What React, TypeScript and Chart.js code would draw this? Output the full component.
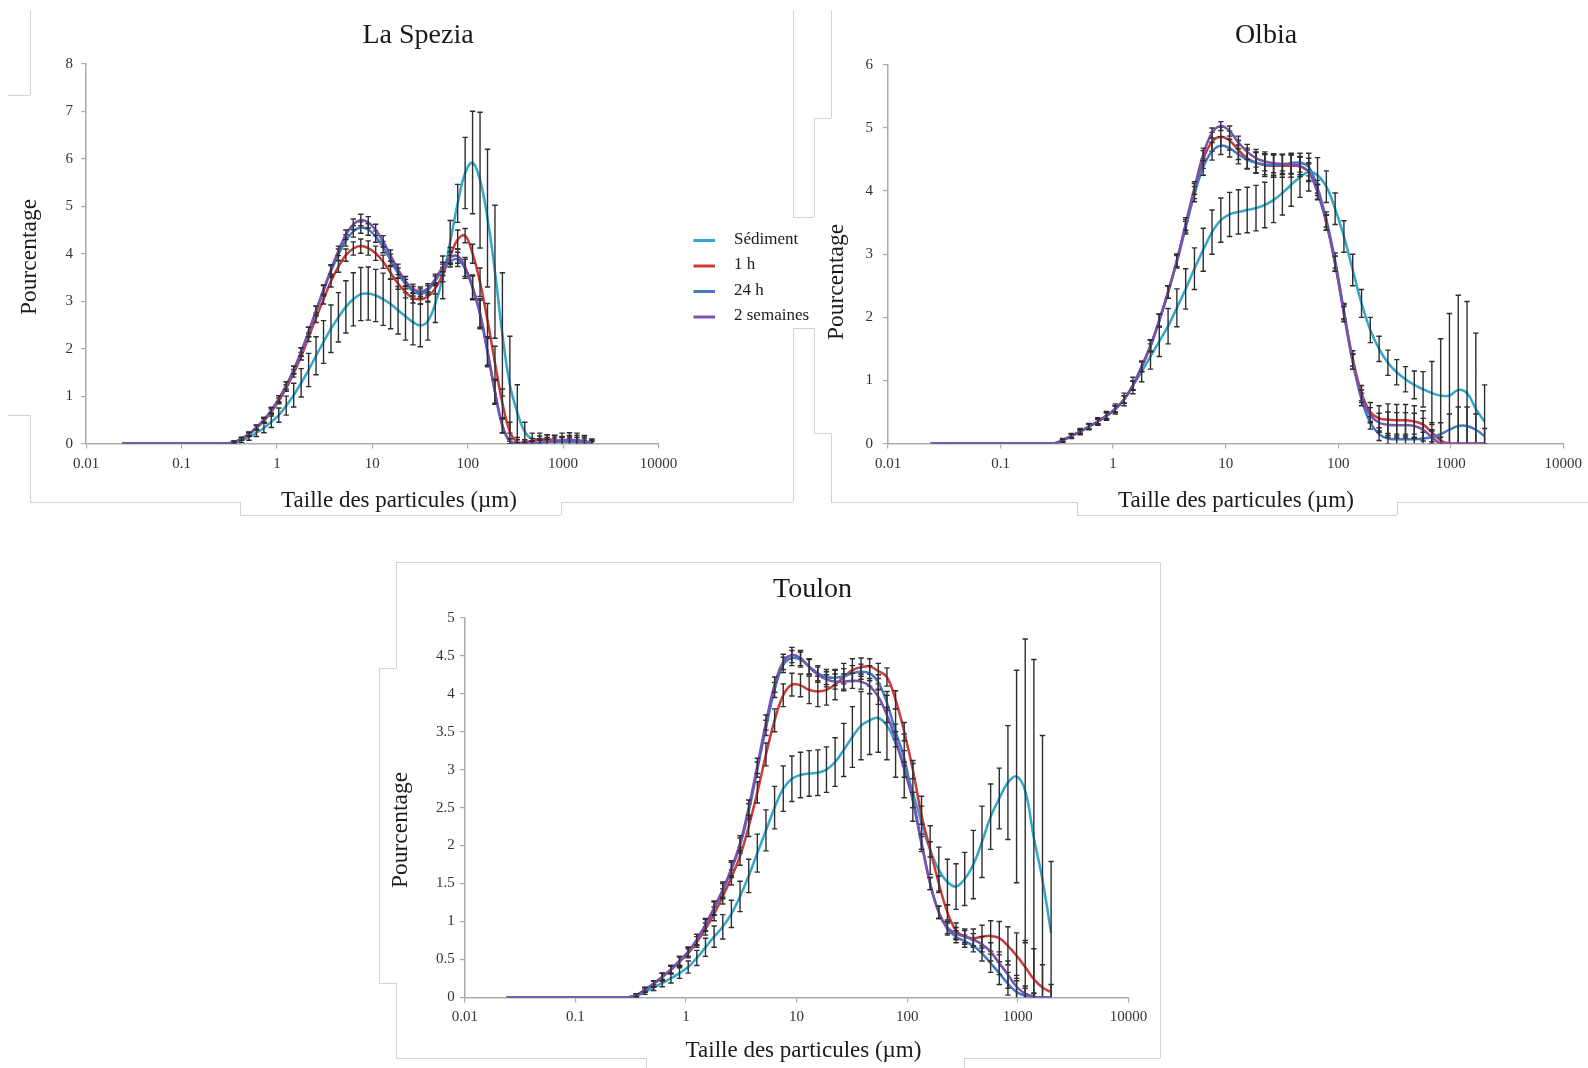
import React, { useEffect, useRef } from 'react';
import { Chart, registerables } from 'chart.js';

Chart.register(...registerables);

// Particle size classes (µm)
const SIZES = [0.0239, 0.0287, 0.0343, 0.0411, 0.0492, 0.0589, 0.0705, 0.0844, 0.101, 0.121, 0.145, 0.173, 0.207, 0.248, 0.297,
  0.356, 0.426, 0.510, 0.610, 0.731, 0.874, 1.047, 1.253, 1.500, 1.796, 2.150, 2.573, 3.081, 3.688, 4.415, 5.285, 6.326, 7.573,
  9.066, 10.85, 12.99, 15.55, 18.62, 22.29, 26.68, 31.94, 38.24, 45.77, 54.79, 65.59, 78.52, 94.00, 112.5, 134.7, 161.3,
  193.1, 231.1, 276.7, 331.2, 396.5, 474.6, 568.2, 680.2, 814.2, 974.7, 1167, 1397, 1672, 2000];

const X_TICKS = [0.01, 0.1, 1, 10, 100, 1000, 10000];
const SERIES_NAMES = ['Sédiment', '1 h', '24 h', '2 semaines'];
const SERIES_COLORS = ['#2FA8CA', '#CC3B3A', '#3F79C7', '#7A52AD'];

// ---------------- La Spezia ----------------
const LS_SED = [0, 0, 0, 0, 0, 0, 0, 0, 0, 0, 0, 0, 0, 0, 0,
  0.02, 0.07, 0.14, 0.23, 0.33, 0.46, 0.60, 0.80, 1.02,
  1.28, 1.55, 1.85, 2.14, 2.42, 2.66, 2.88, 3.04, 3.15,
  3.16, 3.12, 3.04, 2.94, 2.81, 2.68, 2.56, 2.49, 2.58,
  2.95, 3.5, 4.25, 5.06, 5.7, 5.92, 5.55, 4.75, 3.62,
  2.3, 1.24, 0.66, 0.25, 0.1, 0.1, 0.09, 0.07, 0.05,
  0.05, 0.05, 0.04, 0.03];
const LS_SED_ERR = [0, 0, 0, 0, 0, 0, 0, 0, 0, 0, 0, 0, 0, 0, 0,
  0.03, 0.05, 0.07, 0.08, 0.10, 0.12, 0.15, 0.2, 0.25,
  0.3, 0.35, 0.4, 0.45, 0.5, 0.52, 0.55, 0.56, 0.56,
  0.56, 0.55, 0.55, 0.52, 0.5, 0.5, 0.48, 0.45, 0.4,
  0.4, 0.45, 0.45, 0.4, 0.75, 1.08, 1.43, 1.45, 1.4,
  1.3, 1.02, 0.58, 0.2, 0.12, 0.12, 0.1, 0.1, 0.1,
  0.12, 0.12, 0.1, 0.05];
const LS_1H = [0, 0, 0, 0, 0, 0, 0, 0, 0, 0, 0, 0, 0, 0, 0,
  0.03, 0.1, 0.2, 0.33, 0.48, 0.67, 0.9, 1.17, 1.48,
  1.84, 2.24, 2.65, 3.04, 3.42, 3.73, 3.97, 4.11, 4.16,
  4.12, 4.01, 3.83, 3.6, 3.37, 3.19, 3.07, 3.04, 3.1,
  3.27, 3.56, 3.95, 4.3, 4.38, 4.0, 3.4, 2.6, 1.7,
  0.85, 0.25, 0.03, 0.03, 0.06, 0.08, 0.08, 0.07, 0.05,
  0.04, 0.03, 0.02, 0.01];
const LS_1H_ERR = [0, 0, 0, 0, 0, 0, 0, 0, 0, 0, 0, 0, 0, 0, 0,
  0.02, 0.03, 0.04, 0.05, 0.05, 0.06, 0.06, 0.07, 0.08,
  0.08, 0.09, 0.1, 0.1, 0.12, 0.12, 0.13, 0.14, 0.15,
  0.15, 0.15, 0.14, 0.13, 0.12, 0.12, 0.11, 0.1, 0.1,
  0.12, 0.15, 0.18, 0.2, 0.15, 0.2, 0.3, 0.35, 0.35,
  0.3, 0.2, 0.1, 0.05, 0.05, 0.08, 0.1, 0.1, 0.08,
  0.06, 0.05, 0.04, 0.03];
const LS_24H = [0, 0, 0, 0, 0, 0, 0, 0, 0, 0, 0, 0, 0, 0, 0,
  0.03, 0.1, 0.2, 0.34, 0.5, 0.7, 0.94, 1.22, 1.55,
  1.93, 2.35, 2.79, 3.22, 3.63, 3.98, 4.28, 4.47, 4.55,
  4.51, 4.36, 4.14, 3.87, 3.59, 3.36, 3.21, 3.16, 3.23,
  3.43, 3.66, 3.84, 3.88, 3.68, 3.28, 2.72, 1.92, 1.08,
  0.37, 0.05, 0.0, 0.0, 0.01, 0.02, 0.03, 0.04, 0.04,
  0.04, 0.03, 0.02, 0.01];
const LS_24H_ERR = [0, 0, 0, 0, 0, 0, 0, 0, 0, 0, 0, 0, 0, 0, 0,
  0.02, 0.03, 0.04, 0.05, 0.05, 0.06, 0.07, 0.08, 0.08,
  0.09, 0.1, 0.1, 0.11, 0.12, 0.12, 0.12, 0.12, 0.12,
  0.12, 0.12, 0.12, 0.12, 0.11, 0.1, 0.1, 0.1, 0.1,
  0.1, 0.12, 0.12, 0.15, 0.2, 0.25, 0.3, 0.3, 0.25,
  0.15, 0.05, 0.02, 0.02, 0.03, 0.05, 0.06, 0.08, 0.1,
  0.1, 0.1, 0.08, 0.05];
const LS_2S = [0, 0, 0, 0, 0, 0, 0, 0, 0, 0, 0, 0, 0, 0, 0,
  0.03, 0.1, 0.2, 0.34, 0.5, 0.7, 0.94, 1.22, 1.55,
  1.93, 2.35, 2.8, 3.24, 3.67, 4.06, 4.4, 4.62, 4.71,
  4.66, 4.5, 4.26, 3.96, 3.67, 3.42, 3.26, 3.2, 3.27,
  3.47, 3.72, 3.92, 3.95, 3.72, 3.3, 2.75, 1.95, 1.1,
  0.38, 0.05, 0.0, 0.0, 0.01, 0.02, 0.03, 0.05, 0.07,
  0.08, 0.07, 0.05, 0.02];
const LS_2S_ERR = [0, 0, 0, 0, 0, 0, 0, 0, 0, 0, 0, 0, 0, 0, 0,
  0.02, 0.03, 0.04, 0.05, 0.05, 0.06, 0.07, 0.08, 0.08,
  0.09, 0.1, 0.1, 0.1, 0.1, 0.1, 0.1, 0.11, 0.12,
  0.12, 0.12, 0.12, 0.12, 0.11, 0.1, 0.1, 0.1, 0.1,
  0.1, 0.1, 0.12, 0.15, 0.2, 0.25, 0.3, 0.3, 0.25,
  0.15, 0.05, 0.02, 0.02, 0.05, 0.08, 0.1, 0.12, 0.15,
  0.15, 0.15, 0.12, 0.08];

// ---------------- Olbia ----------------
const OL_SED = [0, 0, 0, 0, 0, 0, 0, 0, 0, 0, 0, 0, 0, 0, 0,
  0.05, 0.12, 0.19, 0.27, 0.35, 0.44, 0.55, 0.7, 0.92,
  1.14, 1.38, 1.62, 1.86, 2.15, 2.45, 2.77, 3.07, 3.35,
  3.54, 3.63, 3.67, 3.7, 3.73, 3.78, 3.86, 3.97, 4.1,
  4.22, 4.3, 4.25, 4.07, 3.72, 3.28, 2.75, 2.22, 1.8,
  1.5, 1.28, 1.13, 1.02, 0.93, 0.86, 0.8, 0.76, 0.76,
  0.85, 0.8, 0.55, 0.35];
const OL_SED_ERR = [0, 0, 0, 0, 0, 0, 0, 0, 0, 0, 0, 0, 0, 0, 0,
  0.03, 0.04, 0.05, 0.05, 0.06, 0.07, 0.08, 0.1, 0.13,
  0.16, 0.2, 0.24, 0.28, 0.3, 0.32, 0.33, 0.34, 0.35,
  0.35, 0.35, 0.35, 0.36, 0.36, 0.36, 0.36, 0.35, 0.34,
  0.32, 0.3, 0.28, 0.25, 0.25, 0.25, 0.25, 0.22, 0.2,
  0.2, 0.2, 0.2, 0.2, 0.22, 0.28, 0.5, 0.9, 1.3,
  1.5, 1.45, 1.2, 0.58];
const OL_1H = [0, 0, 0, 0, 0, 0, 0, 0, 0, 0, 0, 0, 0, 0, 0,
  0.05, 0.12, 0.19, 0.27, 0.35, 0.44, 0.55, 0.7, 0.92,
  1.22, 1.55, 1.95, 2.4, 2.9, 3.45, 4.0, 4.5, 4.78,
  4.86, 4.8, 4.65, 4.52, 4.45, 4.41, 4.4, 4.4, 4.4,
  4.39, 4.3, 3.99, 3.5, 2.85, 2.08, 1.35, 0.8, 0.5,
  0.4, 0.38, 0.37, 0.37, 0.35, 0.3, 0.18, 0.05, 0.0,
  0.0, 0.0, 0.0, 0.0];
const OL_1H_ERR = [0, 0, 0, 0, 0, 0, 0, 0, 0, 0, 0, 0, 0, 0, 0,
  0.02, 0.03, 0.03, 0.04, 0.04, 0.05, 0.05, 0.06, 0.07,
  0.08, 0.09, 0.1, 0.1, 0.1, 0.1, 0.12, 0.14, 0.15,
  0.15, 0.15, 0.15, 0.16, 0.17, 0.18, 0.18, 0.18, 0.18,
  0.16, 0.15, 0.12, 0.12, 0.12, 0.12, 0.12, 0.12, 0.15,
  0.2, 0.25, 0.25, 0.25, 0.25, 0.22, 0.15, 0.05, 0,
  0, 0, 0, 0];
const OL_24H = [0, 0, 0, 0, 0, 0, 0, 0, 0, 0, 0, 0, 0, 0, 0,
  0.05, 0.12, 0.19, 0.27, 0.35, 0.44, 0.55, 0.7, 0.92,
  1.22, 1.55, 1.95, 2.4, 2.88, 3.42, 3.95, 4.38, 4.63,
  4.72, 4.68, 4.58, 4.5, 4.45, 4.42, 4.41, 4.42, 4.44,
  4.45, 4.38, 4.05, 3.55, 2.9, 2.1, 1.3, 0.7, 0.33,
  0.15, 0.08, 0.07, 0.07, 0.07, 0.08, 0.1, 0.15, 0.22,
  0.28, 0.28, 0.22, 0.12];
const OL_24H_ERR = [0, 0, 0, 0, 0, 0, 0, 0, 0, 0, 0, 0, 0, 0, 0,
  0.02, 0.03, 0.03, 0.04, 0.04, 0.05, 0.05, 0.06, 0.07,
  0.08, 0.09, 0.1, 0.1, 0.1, 0.1, 0.12, 0.13, 0.14,
  0.14, 0.14, 0.15, 0.15, 0.16, 0.16, 0.16, 0.16, 0.16,
  0.15, 0.14, 0.12, 0.12, 0.12, 0.12, 0.12, 0.1, 0.1,
  0.1, 0.08, 0.08, 0.08, 0.08, 0.1, 0.12, 0.18, 0.25,
  0.3, 0.3, 0.25, 0.12];
const OL_2S = [0, 0, 0, 0, 0, 0, 0, 0, 0, 0, 0, 0, 0, 0, 0,
  0.05, 0.12, 0.19, 0.27, 0.35, 0.44, 0.55, 0.7, 0.92,
  1.22, 1.55, 1.95, 2.4, 2.9, 3.48, 4.05, 4.58, 4.92,
  5.03, 4.95, 4.77, 4.62, 4.52, 4.47, 4.44, 4.43, 4.42,
  4.4, 4.3, 3.98, 3.5, 2.85, 2.05, 1.3, 0.75, 0.45,
  0.33, 0.3, 0.29, 0.29, 0.28, 0.22, 0.1, 0.0, 0.0,
  0.0, 0.0, 0.0, 0.0];
const OL_2S_ERR = [0, 0, 0, 0, 0, 0, 0, 0, 0, 0, 0, 0, 0, 0, 0,
  0.02, 0.03, 0.03, 0.04, 0.04, 0.05, 0.05, 0.06, 0.07,
  0.08, 0.09, 0.1, 0.1, 0.1, 0.1, 0.1, 0.1, 0.08,
  0.07, 0.08, 0.1, 0.12, 0.14, 0.15, 0.15, 0.15, 0.15,
  0.14, 0.13, 0.12, 0.12, 0.12, 0.12, 0.12, 0.1, 0.12,
  0.15, 0.2, 0.2, 0.2, 0.2, 0.18, 0.1, 0, 0,
  0, 0, 0, 0];

// ---------------- Toulon ----------------
const TL_SED = [0, 0, 0, 0, 0, 0, 0, 0, 0, 0, 0, 0, 0, 0, 0,
  0.02, 0.07, 0.13, 0.19, 0.25, 0.32, 0.4, 0.52, 0.66,
  0.8, 0.93, 1.1, 1.33, 1.6, 1.9, 2.2, 2.5, 2.75,
  2.88, 2.93, 2.95, 2.96, 3.0, 3.1, 3.26, 3.43, 3.58,
  3.65, 3.68, 3.58, 3.35, 3.05, 2.7, 2.3, 1.94, 1.68,
  1.52, 1.46, 1.56, 1.75, 2.05, 2.38, 2.62, 2.83, 2.91,
  2.72, 2.1, 1.55, 0.85];
const TL_SED_ERR = [0, 0, 0, 0, 0, 0, 0, 0, 0, 0, 0, 0, 0, 0, 0,
  0.02, 0.03, 0.04, 0.05, 0.06, 0.07, 0.08, 0.1, 0.12,
  0.14, 0.16, 0.18, 0.2, 0.22, 0.25, 0.27, 0.28, 0.3,
  0.3, 0.3, 0.3, 0.3, 0.3, 0.32, 0.35, 0.4, 0.45,
  0.45, 0.45, 0.45, 0.45, 0.42, 0.38, 0.35, 0.32, 0.3,
  0.3, 0.3, 0.35, 0.45, 0.47, 0.43, 0.4, 0.75, 1.4,
  2.0, 2.35, 1.9, 0.94];
const TL_1H = [0, 0, 0, 0, 0, 0, 0, 0, 0, 0, 0, 0, 0, 0, 0,
  0.03, 0.1, 0.18, 0.27, 0.36, 0.47, 0.58, 0.73, 0.9,
  1.1, 1.33, 1.58, 1.86, 2.25, 2.7, 3.2, 3.65, 3.98,
  4.12, 4.11, 4.05, 4.03, 4.05, 4.12, 4.22, 4.31, 4.35,
  4.36, 4.3, 4.22, 3.92, 3.5, 3.0, 2.4, 1.95, 1.5,
  1.12, 0.88, 0.8, 0.78, 0.8, 0.81, 0.78, 0.68, 0.55,
  0.4, 0.24, 0.13, 0.07];
const TL_1H_ERR = [0, 0, 0, 0, 0, 0, 0, 0, 0, 0, 0, 0, 0, 0, 0,
  0.02, 0.03, 0.04, 0.05, 0.05, 0.06, 0.06, 0.07, 0.08,
  0.09, 0.1, 0.1, 0.12, 0.13, 0.14, 0.15, 0.15, 0.15,
  0.15, 0.15, 0.18, 0.2, 0.2, 0.2, 0.18, 0.15, 0.12,
  0.1, 0.1, 0.12, 0.12, 0.12, 0.12, 0.12, 0.1, 0.1,
  0.1, 0.1, 0.1, 0.12, 0.15, 0.2, 0.22, 0.25, 0.3,
  0.35, 0.4, 0.3, 0.1];
const TL_24H = [0, 0, 0, 0, 0, 0, 0, 0, 0, 0, 0, 0, 0, 0, 0,
  0.03, 0.1, 0.18, 0.27, 0.37, 0.48, 0.6, 0.76, 0.95,
  1.17, 1.4, 1.68, 2.0, 2.45, 3.0, 3.55, 4.05, 4.38,
  4.47, 4.45, 4.36, 4.27, 4.22, 4.21, 4.23, 4.27, 4.29,
  4.27, 4.15, 3.88, 3.5, 3.15, 2.6, 2.02, 1.5, 1.12,
  0.9, 0.8, 0.74, 0.68, 0.58, 0.45, 0.32, 0.18, 0.07,
  0.02, 0.0, 0.0, 0.0];
const TL_24H_ERR = [0, 0, 0, 0, 0, 0, 0, 0, 0, 0, 0, 0, 0, 0, 0,
  0.02, 0.03, 0.04, 0.05, 0.05, 0.06, 0.06, 0.07, 0.08,
  0.09, 0.1, 0.1, 0.1, 0.1, 0.1, 0.1, 0.1, 0.1,
  0.1, 0.1, 0.1, 0.1, 0.1, 0.1, 0.1, 0.1, 0.1,
  0.1, 0.1, 0.1, 0.1, 0.1, 0.1, 0.1, 0.08, 0.08,
  0.08, 0.08, 0.08, 0.08, 0.1, 0.12, 0.15, 0.15, 0.15,
  0.1, 0.05, 0, 0];
const TL_2S = [0, 0, 0, 0, 0, 0, 0, 0, 0, 0, 0, 0, 0, 0, 0,
  0.03, 0.1, 0.18, 0.27, 0.37, 0.48, 0.6, 0.76, 0.96,
  1.18, 1.42, 1.7, 2.03, 2.5, 3.05, 3.62, 4.12, 4.42,
  4.51, 4.47, 4.35, 4.25, 4.19, 4.16, 4.16, 4.17, 4.16,
  4.1, 3.96, 3.72, 3.4, 3.0, 2.6, 2.05, 1.5, 1.12,
  0.92, 0.84, 0.8, 0.76, 0.7, 0.6, 0.45, 0.3, 0.14,
  0.05, 0.01, 0.0, 0.0];
const TL_2S_ERR = [0, 0, 0, 0, 0, 0, 0, 0, 0, 0, 0, 0, 0, 0, 0,
  0.02, 0.03, 0.04, 0.05, 0.05, 0.06, 0.06, 0.07, 0.08,
  0.09, 0.1, 0.1, 0.1, 0.1, 0.1, 0.1, 0.1, 0.1,
  0.1, 0.1, 0.1, 0.1, 0.1, 0.1, 0.1, 0.1, 0.1,
  0.1, 0.1, 0.1, 0.1, 0.1, 0.1, 0.1, 0.08, 0.08,
  0.08, 0.08, 0.08, 0.08, 0.1, 0.12, 0.15, 0.18, 0.15,
  0.1, 0.05, 0, 0];

// ---------------- styling ----------------
const FONT = '"Liberation Serif", "Times New Roman", serif';
const AXIS_COLOR = '#ababab';
const TICK_COLOR = '#333333';
const TEXT_COLOR = '#1a1a1a';
const FRAME_COLOR = '#d2d2d2';

const errorBarPlugin = {
  id: 'errorBars',
  afterDatasetDraw(chart: any, args: any) {
    const ds: any = chart.data.datasets[args.index];
    const errs: number[] = ds.errors;
    if (!errs) return;
    const yScale = chart.scales.y;
    const area = chart.chartArea;
    const ctx = chart.ctx;
    ctx.save();
    ctx.beginPath();
    ctx.rect(area.left - 4, area.top - 4, area.right - area.left + 8, area.bottom - area.top + 4);
    ctx.clip();
    ctx.strokeStyle = '#2e2e2e';
    ctx.lineWidth = 1.4;
    ctx.beginPath();
    args.meta.data.forEach((pt: any, i: number) => {
      const e = errs[i];
      if (!e) return;
      const v = ds.data[i].y;
      const x = pt.x;
      const top = yScale.getPixelForValue(v + e);
      const bot = Math.min(yScale.getPixelForValue(v - e), area.bottom);
      ctx.moveTo(x, top);
      ctx.lineTo(x, bot);
      ctx.moveTo(x - 2.7, top);
      ctx.lineTo(x + 2.7, top);
      if (v - e >= 0) {
        ctx.moveTo(x - 2.7, bot);
        ctx.lineTo(x + 2.7, bot);
      }
    });
    ctx.stroke();
    ctx.restore();
  },
};

type TextItem = { text: string; x: number; y: number; size: number; rotate?: number };

function makeTextPlugin(items: TextItem[]) {
  return {
    id: 'panelTexts',
    afterDraw(chart: any) {
      const ctx = chart.ctx;
      items.forEach((it) => {
        ctx.save();
        ctx.font = `${it.size}px ${FONT}`;
        ctx.fillStyle = TEXT_COLOR;
        ctx.textAlign = 'center';
        ctx.textBaseline = 'middle';
        ctx.translate(it.x, it.y);
        if (it.rotate) ctx.rotate(it.rotate);
        ctx.fillText(it.text, 0, 0);
        ctx.restore();
      });
    },
  };
}

function makeLegendPlugin(x0: number, x1: number, tx: number, ys: number[]) {
  return {
    id: 'sideLegend',
    afterDraw(chart: any) {
      const ctx = chart.ctx;
      ctx.save();
      ctx.font = `17px ${FONT}`;
      ctx.textAlign = 'left';
      ctx.textBaseline = 'middle';
      chart.data.datasets.forEach((ds: any, i: number) => {
        const y = ys[i];
        ctx.strokeStyle = ds.borderColor;
        ctx.lineWidth = 3;
        ctx.beginPath();
        ctx.moveTo(x0, y);
        ctx.lineTo(x1, y);
        ctx.stroke();
        ctx.fillStyle = TEXT_COLOR;
        ctx.fillText(ds.label, tx, y - 1);
      });
      ctx.restore();
    },
  };
}

type PanelDef = {
  left: number; top: number; width: number; height: number;
  padding: { left: number; right: number; top: number; bottom: number };
  yMax: number; yStep: number; yPad: number; xPad: number;
  series: number[][]; errors: number[][];
  texts: TextItem[];
  legend?: boolean;
};

function buildConfig(p: PanelDef): any {
  const tickFont = { family: FONT, size: 15 };
  const plugins: any[] = [errorBarPlugin, makeTextPlugin(p.texts)];
  if (p.legend) plugins.push(makeLegendPlugin(693.5, 715, 734, [240.5, 266, 291.5, 317]));
  return {
    type: 'line',
    data: {
      datasets: p.series.map((vals, i) => ({
        label: SERIES_NAMES[i],
        data: SIZES.map((x, j) => ({ x, y: vals[j] })),
        errors: p.errors[i],
        borderColor: SERIES_COLORS[i],
        backgroundColor: SERIES_COLORS[i],
        borderWidth: 2.5,
        pointRadius: 0,
        pointHoverRadius: 0,
        tension: 0.4,
        fill: false,
        order: 4 - i,
      })),
    },
    options: {
      responsive: false,
      animation: false,
      events: [],
      layout: { padding: p.padding },
      plugins: {
        legend: { display: false },
        tooltip: { enabled: false },
        title: { display: false },
      },
      scales: {
        x: {
          type: 'logarithmic',
          min: 0.01,
          max: 10000,
          afterBuildTicks: (s: any) => { s.ticks = X_TICKS.map((v) => ({ value: v })); },
          afterFit: (s: any) => { s.height = 40; },
          ticks: {
            callback: (v: any) => String(v),
            font: tickFont,
            color: TICK_COLOR,
            padding: p.xPad,
            autoSkip: false,
            maxRotation: 0,
            minRotation: 0,
          },
          grid: { drawOnChartArea: false, drawTicks: true, tickLength: 5, color: AXIS_COLOR, lineWidth: 1.2 },
          border: { display: true, color: AXIS_COLOR, width: 1.5 },
        },
        y: {
          type: 'linear',
          min: 0,
          max: p.yMax,
          afterFit: (s: any) => { s.width = 40; },
          ticks: {
            stepSize: p.yStep,
            callback: (v: any) => String(v),
            font: tickFont,
            color: TICK_COLOR,
            padding: p.yPad,
          },
          grid: { drawOnChartArea: false, drawTicks: true, tickLength: 5, color: AXIS_COLOR, lineWidth: 1.2 },
          border: { display: true, color: AXIS_COLOR, width: 1.5 },
        },
      },
    },
    plugins,
  };
}

const PANELS: PanelDef[] = [
  {
    left: 0, top: 0, width: 815, height: 530,
    padding: { left: 46.1, right: 156.5, top: 63.8, bottom: 46.4 },
    yMax: 8, yStep: 1, yPad: 8, xPad: 6,
    series: [LS_SED, LS_1H, LS_24H, LS_2S],
    errors: [LS_SED_ERR, LS_1H_ERR, LS_24H_ERR, LS_2S_ERR],
    texts: [
      { text: 'La Spezia', x: 418, y: 35.5, size: 28 },
      { text: 'Pourcentage', x: 29.6, y: 257, size: 23.5, rotate: -Math.PI / 2 },
      { text: 'Taille des particules (µm)', x: 399, y: 501, size: 23 },
    ],
    legend: true,
  },
  {
    left: 815, top: 0, width: 773, height: 530,
    padding: { left: 33, right: 24.4, top: 64.8, bottom: 46.4 },
    yMax: 6, yStep: 1, yPad: 10, xPad: 6,
    series: [OL_SED, OL_1H, OL_24H, OL_2S],
    errors: [OL_SED_ERR, OL_1H_ERR, OL_24H_ERR, OL_2S_ERR],
    texts: [
      { text: 'Olbia', x: 451, y: 35.5, size: 28 },
      { text: 'Pourcentage', x: 22, y: 282, size: 23.5, rotate: -Math.PI / 2 },
      { text: 'Taille des particules (µm)', x: 421, y: 501, size: 23 },
    ],
  },
  {
    left: 370, top: 545, width: 800, height: 523,
    padding: { left: 54.8, right: 41.6, top: 72.8, bottom: 30.6 },
    yMax: 5, yStep: 0.5, yPad: 5, xPad: 6,
    series: [TL_SED, TL_1H, TL_24H, TL_2S],
    errors: [TL_SED_ERR, TL_1H_ERR, TL_24H_ERR, TL_2S_ERR],
    texts: [
      { text: 'Toulon', x: 442.5, y: 45, size: 28 },
      { text: 'Pourcentage', x: 30.5, y: 285, size: 23.5, rotate: -Math.PI / 2 },
      { text: 'Taille des particules (µm)', x: 433.5, y: 506, size: 23 },
    ],
  },
];

// Faint frame fragments of the original figure: [x1, y1, x2, y2]
const FRAME_SEGMENTS: number[][] = [
  [29.5, 10, 29.5, 95], [8, 95, 29.5, 95], [8, 415, 29.5, 415], [29.5, 415, 29.5, 501.5],
  [29.5, 501.5, 240, 501.5], [240, 501.5, 240, 515], [240, 515, 561, 515], [561, 501.5, 561, 515],
  [561, 501.5, 793, 501.5], [793, 10, 793, 217], [793, 217, 814, 217], [793, 328, 814, 328],
  [793, 328, 793, 501.5], [814, 118, 814, 217], [814, 118, 831, 118], [831, 10, 831, 118],
  [814, 328, 814, 433], [814, 433, 831, 433], [831, 433, 831, 501.5],
  [831, 501.5, 1077, 501.5], [1077, 501.5, 1077, 515], [1077, 515, 1397, 515], [1397, 501.5, 1397, 515],
  [1397, 501.5, 1588, 501.5],
  [395.5, 561.5, 1160, 561.5], [395.5, 561.5, 395.5, 668], [379, 668, 395.5, 668], [379, 668, 379, 983],
  [379, 983, 395.5, 983], [395.5, 983, 395.5, 1058], [395.5, 1058, 645.5, 1058], [645.5, 1058, 645.5, 1068],
  [964, 1058, 964, 1068], [964, 1058, 1160, 1058], [1160, 561.5, 1160, 1058],
];

function ChartPanel({ def }: { def: PanelDef }) {
  const ref = useRef<HTMLCanvasElement | null>(null);
  useEffect(() => {
    if (!ref.current) return;
    const chart = new Chart(ref.current, buildConfig(def));
    return () => chart.destroy();
  }, [def]);
  return (
    <canvas
      ref={ref}
      width={def.width}
      height={def.height}
      style={{ position: 'absolute', left: def.left, top: def.top, width: def.width, height: def.height }}
    />
  );
}

export default function App() {
  return (
    <div style={{ position: 'absolute', left: 0, top: 0, width: 1588, height: 1068, overflow: 'hidden', background: '#ffffff' }}>
      {FRAME_SEGMENTS.map(([x1, y1, x2, y2], i) => (
        <div
          key={i}
          style={{
            position: 'absolute',
            left: Math.min(x1, x2),
            top: Math.min(y1, y2),
            width: Math.max(1, Math.abs(x2 - x1)),
            height: Math.max(1, Math.abs(y2 - y1)),
            background: FRAME_COLOR,
          }}
        />
      ))}
      {PANELS.map((p, i) => <ChartPanel key={i} def={p} />)}
    </div>
  );
}
